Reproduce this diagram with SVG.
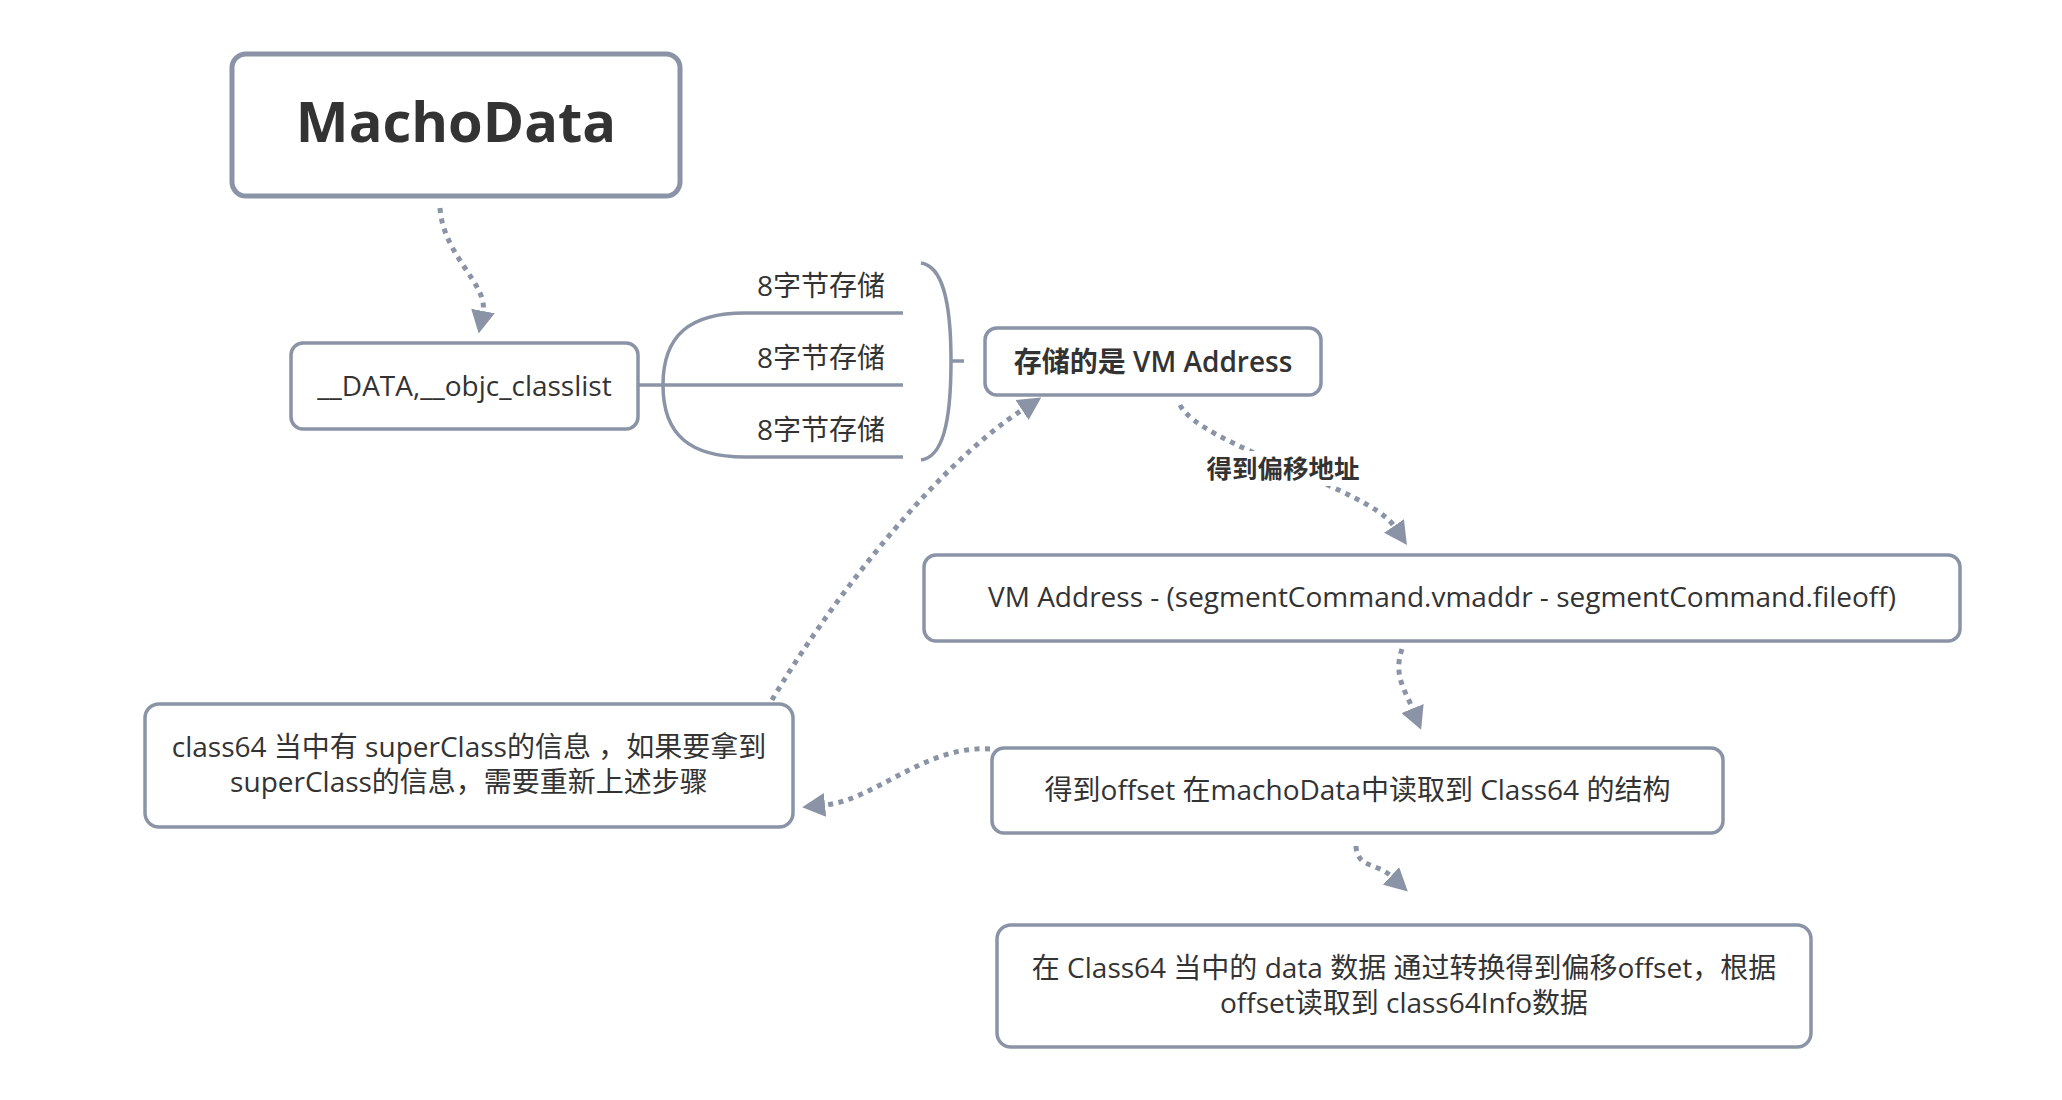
<svg xmlns="http://www.w3.org/2000/svg" width="2062" height="1100" viewBox="0 0 2062 1100">
  <style>
    .box { fill: #ffffff; stroke: #8a94a6; stroke-width: 3.5; }
    .main { fill: #ffffff; stroke: #8a94a6; stroke-width: 5; }
    .t { font-family: "Open Sans", "Noto Sans CJK SC", sans-serif; font-size: 28px; fill: #333333; text-anchor: middle; }
    .b { font-weight: 600; }
    .title { font-family: "Open Sans", "Noto Sans CJK SC", sans-serif; font-size: 56px; font-weight: 700; fill: #333333; text-anchor: middle; }
    .lbl { font-family: "Open Sans", "Noto Sans CJK SC", sans-serif; font-size: 25.5px; font-weight: 700; fill: #333333; text-anchor: middle; }
    .branch { fill: none; stroke: #8a94a6; stroke-width: 3.5; }
    .rel { fill: none; stroke: #8a94a6; stroke-width: 5; stroke-dasharray: 5 5.5; }
  </style>
  <defs>
    <marker id="arrow" markerUnits="userSpaceOnUse" markerWidth="24" markerHeight="24" refX="0" refY="11.5" orient="auto" viewBox="0 0 23 23">
      <path d="M0,0 L22,11.5 L0,23 Z" fill="#8a94a6"/>
    </marker>
  </defs>
  <rect width="2062" height="1100" fill="#ffffff"/>

  <g id="connectors">
    <!-- branch lines from __DATA -->
    <path class="branch" d="M638,385 L903,385"/>
    <path class="branch" d="M663,385 C663,335 690,313 745,313 L903,313"/>
    <path class="branch" d="M663,385 C663,435 690,457 745,457 L903,457"/>
    <!-- brace -->
    <path class="branch" stroke-width="3" d="M921,263 C942,266 951,300 951,361 C951,425 942,457 921,460"/>
    <path class="branch" stroke-width="3" d="M951,361 L964,361"/>
    <!-- relationships -->
    <path class="rel" stroke-width="5.5" stroke-dasharray="5.5 6" d="M440,208 C443,255 488,285 483,311" marker-end="url(#arrow)"/>
    <path class="rel" d="M1180,405 C1200,445 1368,488 1394,526" marker-end="url(#arrow)"/>
    <rect x="1203" y="451" width="160" height="35" fill="#ffffff"/>
    <text class="lbl" x="1283" y="478">得到偏移地址</text>
    <path class="rel" d="M1402,649 C1393,675 1405,690 1412.5,708.5" marker-end="url(#arrow)"/>
    <path class="rel" d="M1356,846 C1357,868 1377,863 1391,876" marker-end="url(#arrow)"/>
    <path class="rel" d="M772,700 C825,610 930,470 1022,410" marker-end="url(#arrow)"/>
    <path class="rel" d="M990,749 C925,745 875,800 825,805" marker-end="url(#arrow)"/>
  </g>

  <g id="macho-data">
    <rect class="main" x="232" y="54" width="448" height="142" rx="14"/>
    <text class="title" x="456" y="142">MachoData</text>
  </g>

  <g id="data-classlist">
    <rect class="box" x="291" y="343" width="347" height="86" rx="12"/>
    <text class="t" x="464.5" y="396">__DATA,__objc_classlist</text>
  </g>

  <g id="slot-1">
    <text class="t" x="821" y="296">8字节存储</text>
  </g>
  <g id="slot-2">
    <text class="t" x="821" y="368">8字节存储</text>
  </g>
  <g id="slot-3">
    <text class="t" x="821" y="440">8字节存储</text>
  </g>

  <g id="vm-address">
    <rect class="box" x="985" y="328" width="336" height="67" rx="12"/>
    <text class="t b" x="1153" y="372">存储的是 VM Address</text>
  </g>

  <g id="formula">
    <rect class="box" x="924" y="555" width="1036" height="86" rx="12"/>
    <text class="t" x="1442" y="607">VM Address - (segmentCommand.vmaddr - segmentCommand.fileoff)</text>
  </g>

  <g id="read-class64">
    <rect class="box" x="992" y="748" width="731" height="85" rx="12"/>
    <text class="t" x="1357.5" y="800">得到offset 在machoData中读取到 Class64 的结构</text>
  </g>

  <g id="superclass">
    <rect class="box" x="145" y="704" width="648" height="123" rx="14"/>
    <text class="t" x="469" y="757">class64 当中有 superClass的信息 ，如果要拿到</text>
    <text class="t" x="469" y="792">superClass的信息，需要重新上述步骤</text>
  </g>

  <g id="class64-info">
    <rect class="box" x="997" y="925" width="814" height="122" rx="14"/>
    <text class="t" x="1404" y="978">在 Class64 当中的 data 数据 通过转换得到偏移offset，根据</text>
    <text class="t" x="1404" y="1013">offset读取到 class64Info数据</text>
  </g>
</svg>
